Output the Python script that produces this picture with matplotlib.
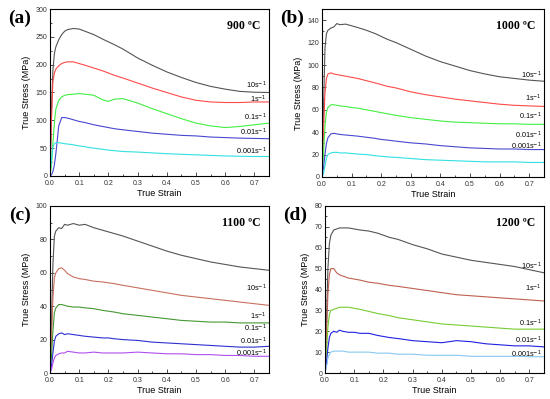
import numpy as np
import matplotlib
matplotlib.use('Agg')
import matplotlib.pyplot as plt
from matplotlib.ticker import MultipleLocator

plt.rcParams['font.family'] = ['Liberation Sans', 'DejaVu Sans']

# strain grid shared by all curves
strain = [0, .005, .01, .015, .02, .03, .04, .05, .06, .08, .1, .12, .15, .18,
          .2, .22, .25, .3, .35, .4, .45, .5, .55, .6, .65, .7, .75]

rates = ['10s$^{-1}$', '1s$^{-1}$', '0.1s$^{-1}$', '0.01s$^{-1}$', '0.001s$^{-1}$']

# (a) 900 C
a_10 = [0, 120, 190, 220, 232, 245, 254, 260, 263, 265, 264, 260, 254, 246,
        241, 236, 228, 212, 199, 187, 177, 168, 161, 156, 152, 150.5, 150]
a_1 = [0, 100, 170, 185, 192, 198, 202, 204, 205, 205, 202, 199, 194, 189,
       185, 181, 176, 167, 158, 150, 142, 136, 133, 132, 132, 133, 133]
a_01 = [0, 20, 60, 95, 120, 136, 142, 145, 146, 147, 148, 147, 145, 137,
        134, 138, 139, 131, 121, 112, 103, 95, 90, 87, 89, 92, 95]
a_001 = [0, 2, 8, 20, 40, 90, 105, 105, 104, 101, 98, 96, 92, 89,
         87, 85, 83, 80, 77, 75, 73, 72, 70, 69, 68, 67.5, 67]
a_0001 = [0, 30, 52, 58, 60, 60, 59, 58, 57.5, 56, 54, 52.5, 50, 48,
          46.5, 45.5, 44, 43, 41.5, 40, 39, 38, 37, 36, 35.5, 35, 35]
a_lab_y = [163, 138, 105, 78, 44]

# (b) 1000 C
b_10 = [0, 60, 115, 128, 131, 133, 134, 137, 136, 136.5, 135, 133.5, 131, 128,
        125.5, 123, 120, 114, 108, 103, 99, 95, 92, 89.5, 88, 86.5, 85.5]
b_1 = [0, 40, 75, 88, 92, 93, 92, 91.5, 91, 90, 89, 88, 86, 84,
       82.5, 81, 79.5, 76, 73.5, 71.5, 69.5, 68, 66.5, 65, 64, 63.5, 63]
b_01 = [0, 20, 45, 58, 62, 64.5, 64.5, 64, 63.5, 63, 62, 61.5, 60, 58.5,
        57.5, 56.5, 55, 53, 51.5, 50, 49, 48.5, 48, 47.5, 47.5, 47, 47]
b_001 = [0, 8, 20, 30, 35, 38.5, 39, 38.5, 38, 37.5, 37, 36.5, 35.5, 34.5,
         33.5, 33, 32, 30.5, 29.5, 28, 27, 26, 25.5, 25, 25, 24.5, 24.5]
b_0001 = [0, 3, 10, 17, 20, 21.5, 22, 22, 21.5, 21.5, 21, 20.5, 20, 19,
          18.5, 18, 17.5, 16.5, 15.5, 15, 14.5, 14, 13.5, 13.5, 13.5, 13, 13]
b_lab_y = [91, 70, 54, 37.5, 27.5]

# (c) 1100 C
c_10 = [0, 30, 65, 82, 85, 87, 86.5, 89, 88.5, 89.5, 88.5, 89, 87, 85.5,
        84.5, 83.5, 82, 79, 76, 73, 70.5, 68.5, 66.5, 65, 63.5, 62.5, 61.5]
c_1 = [0, 20, 45, 57, 60, 62.5, 63, 61.5, 59.5, 57.5, 56.5, 56, 55, 54.5,
       54, 53.5, 52.5, 51, 49.5, 48, 46.5, 45.5, 44.5, 43.5, 42.5, 41.5, 40.5]
c_01 = [0, 10, 25, 36, 39, 41, 41, 40.5, 40, 39.5, 39.5, 39, 38.5, 37.5,
        37, 36.5, 35.5, 34.5, 33.5, 32.5, 31.5, 31, 30.5, 30.5, 30, 30, 30]
c_001 = [0, 4, 12, 19, 22, 23.5, 24, 23, 23.5, 23, 22.5, 22, 21.5, 21,
         21, 20.5, 20, 19.5, 18.5, 18, 17.5, 17, 16.5, 16, 15.5, 15.5, 16]
c_0001 = [0, 2, 6, 9, 10.5, 11.5, 12, 12, 13, 12.5, 12, 12, 12.5, 12,
          12, 12, 12, 12.5, 12, 11.5, 11.5, 11, 11, 10.5, 10.5, 10, 10]
c_lab_y = [50.5, 34, 27, 19, 12]

# (d) 1200 C
d_10 = [0, 25, 50, 62, 66, 68.5, 69, 69.5, 69.5, 69.5, 69, 68.5, 68, 67,
        66, 65, 64, 61.5, 59.5, 57, 55.5, 54, 53, 52, 51, 49.5, 48]
d_1 = [0, 18, 38, 47, 50, 50, 48, 47, 46.5, 45.5, 45, 44.5, 43.5, 43,
       42.5, 42, 41.5, 40.5, 39.5, 38.5, 37.5, 37, 36.5, 36, 35.5, 35, 34.5]
d_01 = [0, 10, 22, 28, 30, 30.5, 31, 31.5, 31.5, 31.5, 31, 30.5, 29.5, 28.5,
        28, 27.5, 26.5, 25.5, 24.5, 23.5, 23, 22.5, 22, 21.5, 21, 21, 21]
d_001 = [0, 5, 12, 17, 19, 20, 19.5, 20.5, 20, 19.5, 19.5, 19, 19, 18,
         17.5, 17, 16.5, 15.5, 15, 14.5, 15.5, 15, 14, 13.5, 13, 13, 12.5]
d_0001 = [0, 3, 7, 9, 10, 10.5, 10.5, 10.5, 10.5, 10, 10, 10, 10, 9.5,
          9.5, 9.5, 9, 9, 8.5, 8.5, 8.5, 8, 8, 8, 8, 7.8, 7.8]
d_lab_y = [51, 40.7, 23.7, 15.6, 8.9]

panels = [
    ('(a)', '900 \u00baC', [a_10, a_1, a_01, a_001, a_0001], a_lab_y,
     (0, 300), 50, ['#555555', '#ff4a4a', '#44ee44', '#4848d0', '#33e0e0'],
     (50, 269, 9, 176)),
    ('(b)', '1000 \u00baC', [b_10, b_1, b_01, b_001, b_0001], b_lab_y,
     (0, 150), 20, ['#555555', '#ff4a4a', '#44ee44', '#4848d0', '#33e0e0'],
     (322, 544, 9, 177)),
    ('(c)', '1100 \u00baC', [c_10, c_1, c_01, c_001, c_0001], c_lab_y,
     (0, 100), 20, ['#555555', '#c87060', '#449933', '#3030d0', '#b050f0'],
     (50, 269, 206, 373)),
    ('(d)', '1200 \u00baC', [d_10, d_1, d_01, d_001, d_0001], d_lab_y,
     (0, 80), 10, ['#555555', '#c06050', '#77cc33', '#2020e0', '#88c8f0'],
     (325, 544, 206, 373)),
]

W, H = 550, 399
fig = plt.figure(figsize=(W / 100, H / 100), dpi=100)

for letter, temp, curves, lab_y, ylim, ystep, colors, box in panels:
    l, r, t, b = box
    ax = fig.add_axes([l / W, 1 - b / H, (r - l) / W, (b - t) / H])
    for vals, c in zip(curves, colors):
        ax.plot(strain, vals, color=c, lw=0.8)
    for lab, y in zip(rates, lab_y):
        ax.text(0.742, y, lab, ha='right', va='center', fontsize=5.2)
    ax.set_xlim(0, 0.75)
    ax.set_ylim(*ylim)
    ax.xaxis.set_major_locator(MultipleLocator(0.1))
    ax.xaxis.set_minor_locator(MultipleLocator(0.05))
    ax.yaxis.set_major_locator(MultipleLocator(ystep))
    ax.yaxis.set_minor_locator(MultipleLocator(ystep / 2))
    ax.tick_params(which='both', direction='in', labelsize=5, width=0.6,
                   colors='#333333')
    ax.tick_params(axis='x', pad=3)
    ax.tick_params(axis='y', pad=2)
    ax.tick_params(which='major', length=3)
    ax.tick_params(which='minor', length=1.5)
    for s in ax.spines.values():
        s.set_linewidth(0.8)
    ax.set_xlabel('True Strain', fontsize=6.5, labelpad=1)
    ax.set_ylabel('True Stress (MPa)', fontsize=6.5, labelpad=3)
    ax.text(0.96, 0.9, temp, transform=ax.transAxes, ha='right', va='center',
            fontsize=8.5, fontweight='bold', family='Liberation Serif')
    fig.text((l - 30) / W, 1 - (t + 9) / H, letter, ha='center', va='center',
             fontsize=14, fontweight='bold', family='Liberation Serif')

fig.savefig('out.png', dpi=100)
